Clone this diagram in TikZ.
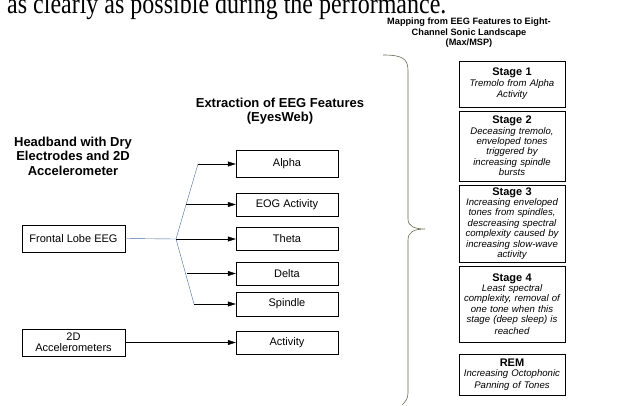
\documentclass[tikz,border=0pt]{standalone}
\usepackage{fontspec}
\setmainfont{Liberation Sans}
\newfontfamily\pageserif{Liberation Serif}
\usetikzlibrary{arrows.meta,positioning}
\definecolor{trunkblue}{RGB}{74,108,160}
\definecolor{braceolive}{RGB}{105,105,80}
\newcommand{\stagehead}[1]{{\fontsize{11}{12}\selectfont\bfseries\upshape #1}}

\begin{document}
\begin{tikzpicture}[x=1pt, y=-1pt,
    featbox/.style={draw, rectangle, minimum width=102pt, minimum height=23pt, inner sep=1pt, font=\fontsize{11}{11}\selectfont},
    srcbox/.style={draw, rectangle, minimum width=103pt, minimum height=27pt, inner sep=1pt, align=center, font=\fontsize{11}{11}\selectfont},
    stagebox/.style={draw, rectangle, minimum width=106pt, text width=104pt, inner sep=1pt, align=center, font=\fontsize{9.6}{10.4}\selectfont\itshape},
    coltitle/.style={align=center, font=\fontsize{13}{14.5}\selectfont\bfseries},
    feed/.style={-{Triangle[length=8pt,width=5pt]}},
    trunk/.style={trunkblue},
]
\useasboundingbox (0,0) rectangle (624,405);
\clip (0,0) rectangle (624,405);

% running text of the page, cut at the top
\node (pagetext) [anchor=base west, inner sep=0pt, font=\pageserif\fontsize{24}{24}\selectfont] at (7,13) {\scalebox{1}[1.2]{as clearly as possible during the performance.}};

% column titles
\node (headtitle) [coltitle] at (73,156) {Headband with Dry\\Electrodes and 2D\\Accelerometer};
\node (extitle) [coltitle] at (280,111) {Extraction of EEG Features\\(EyesWeb)};
\node (maptitle) [align=center, font=\fontsize{9.2}{10.5}\selectfont\bfseries] at (469,33) {Mapping from EEG Features to Eight-\\Channel Sonic Landscape\\(Max/MSP)};

% sources
\node (frontal) [srcbox] at (73.5,238.5) {Frontal Lobe EEG};
\node (accel) [srcbox] at (73.5,342.5) {2D\\Accelerometers};

% features
\node (alpha) [featbox, minimum height=27pt] at (287,163.5) {Alpha};
\node (eog) [featbox] at (287,204.5) {EOG Activity};
\node (theta) [featbox] at (287,238.5) {Theta};
\node (delta) [featbox] at (287,273.5) {Delta};
\node (spindle) [featbox, minimum height=24pt] at (287,304) {Spindle};
\node (activity) [featbox] at (287,342.5) {Activity};

% branching line
\coordinate (hub) at (176,239);
\coordinate (toalpha) at (198,164);
\coordinate (toeog) at (186,204.5);
\coordinate (todelta) at (187,273.5);
\coordinate (tospindle) at (194,304);
\draw[trunk] (frontal.east) -- (hub);
\draw[trunk] (toalpha) -- (hub) -- (tospindle);

\draw[feed] (toalpha) -- (alpha.west |- toalpha);
\draw[feed] (toeog) -- (eog.west);
\draw[feed] (hub) -- (theta.west |- hub);
\draw[feed] (todelta) -- (delta.west);
\draw[feed] (tospindle) -- (spindle.west);
\draw[feed] (accel.east) -- (activity.west);

% brace
\draw[braceolive, semithick] (383,55) .. controls (401,55) and (408,58) .. (408,70)
    -- (408,219) .. controls (408,226) and (414,229) .. (425,229)
    .. controls (414,229) and (408,232) .. (408,240)
    -- (408,393) .. controls (408,399) and (405,402) .. (402,405);

% stages
\node (stage1) [stagebox, minimum height=46pt] at (512,84) {\stagehead{Stage 1}\\Tremolo from Alpha\\[1.5pt]Activity};
\node (stage2) [stagebox, minimum height=70pt] at (512,146) {\stagehead{Stage 2}\\Deceasing tremolo,\\enveloped tones\\triggered by\\increasing spindle\\bursts};
\node (stage3) [stagebox, minimum height=77pt] at (512,223.5) {\stagehead{Stage 3}\\Increasing enveloped\\tones from spindles,\\descreasing spectral\\complexity caused by\\increasing slow-wave\\activity};
\node (stage4) [stagebox, minimum height=76pt] at (512,304) {\stagehead{Stage 4}\\Least spectral\\complexity, removal of\\one tone when this\\stage (deep sleep) is\\[1.5pt]reached};
\node (rem) [stagebox, minimum height=41pt] at (512,374.5) {\stagehead{REM}\\Increasing Octophonic\\[1.5pt]Panning of Tones};
\end{tikzpicture}
\end{document}
